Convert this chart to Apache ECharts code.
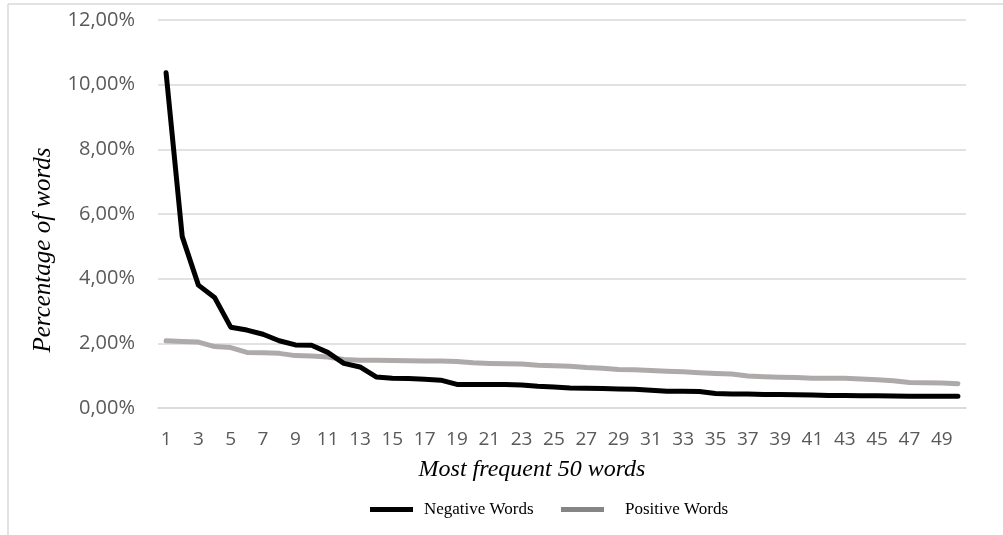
<!DOCTYPE html>
<html>
<head>
<meta charset="utf-8">
<script src="https://cdn.jsdelivr.net/npm/echarts@6/dist/echarts.min.js"></script>
<style>
html,body{margin:0;padding:0;background:#fff;}
#chart{width:1003px;height:535px;}
</style>
</head>
<body>
<div id="chart"></div>
<script>
const categories = Array.from({length: 50}, (_, i) => String(i + 1));
const negativeWords = [10.37, 5.30, 3.80, 3.42, 2.50, 2.41, 2.28, 2.08, 1.95, 1.94,
  1.72, 1.38, 1.27, 0.96, 0.92, 0.91, 0.89, 0.86, 0.73, 0.73,
  0.73, 0.73, 0.71, 0.67, 0.65, 0.62, 0.61, 0.60, 0.59, 0.58,
  0.55, 0.52, 0.52, 0.51, 0.45, 0.43, 0.43, 0.42, 0.42, 0.41,
  0.40, 0.39, 0.39, 0.38, 0.38, 0.37, 0.36, 0.36, 0.36, 0.36];
const positiveWords = [2.08, 2.06, 2.04, 1.90, 1.87, 1.72, 1.71, 1.69, 1.62, 1.61,
  1.58, 1.50, 1.48, 1.48, 1.47, 1.46, 1.45, 1.45, 1.44, 1.40,
  1.38, 1.37, 1.36, 1.32, 1.31, 1.29, 1.25, 1.23, 1.19, 1.18,
  1.16, 1.14, 1.12, 1.09, 1.07, 1.05, 0.99, 0.97, 0.95, 0.94,
  0.92, 0.92, 0.92, 0.90, 0.87, 0.84, 0.79, 0.78, 0.77, 0.75];
const yTicks = [0, 2, 4, 6, 8, 10, 12];
const xTitle = 'Most frequent 50 words';
const yTitle = 'Percentage of words';

const chart = echarts.init(document.getElementById('chart'), null, {renderer: 'canvas'});
const serif = '"Liberation Serif", "DejaVu Serif", serif';
const sans = '"Open Sans", "Noto Sans", sans-serif';
chart.setOption({
  animation: false,
  backgroundColor: '#fff',
  grid: {left: 158, right: 37, top: 20, bottom: 127, containLabel: false},
  graphic: [
    {type: 'line', shape: {x1: 8, y1: 4, x2: 1003, y2: 4}, style: {stroke: '#d9d9d9', lineWidth: 1.5}},
    {type: 'line', shape: {x1: 8, y1: 4, x2: 8, y2: 535}, style: {stroke: '#d9d9d9', lineWidth: 1.5}},
    {type: 'text', x: 532, y: 470, style: {text: xTitle, font: 'italic 24px "Liberation Serif", serif', fill: '#000', align: 'center', verticalAlign: 'middle'}},
    {type: 'text', x: 43, y: 250, rotation: Math.PI / 2, style: {text: yTitle, font: 'italic 25px "Liberation Serif", serif', fill: '#000', align: 'center', verticalAlign: 'middle'}}
  ],
  xAxis: {
    type: 'category',
    data: categories,
    boundaryGap: true,
    axisLine: {show: true, lineStyle: {color: '#d9d9d9', width: 1.5}},
    axisTick: {show: false},
    axisLabel: {interval: 1, color: '#595959', fontFamily: sans, fontSize: 19, margin: 22}
  },
  yAxis: {
    type: 'value',
    min: 0, max: 12, interval: 2,
    axisLine: {show: false},
    axisTick: {show: false},
    splitLine: {lineStyle: {color: '#d9d9d9', width: 1.5}},
    axisLabel: {
      color: '#595959', fontFamily: sans, fontSize: 20, margin: 23,
      formatter: v => yTicks.includes(v) ? v.toFixed(2).replace('.', ',') + '%' : ''
    }
  },
  legend: [
    {
      left: 365, top: 496,
      itemWidth: 43, itemHeight: 5, icon: 'rect',
      textStyle: {fontFamily: serif, fontSize: 17, color: '#000', padding: [0, 0, 0, 6]},
      data: [{name: 'Negative Words', itemStyle: {color: '#000'}}]
    },
    {
      left: 556, top: 496,
      itemWidth: 43, itemHeight: 5, icon: 'rect',
      textStyle: {fontFamily: serif, fontSize: 17, color: '#000', padding: [0, 0, 0, 16]},
      data: [{name: 'Positive Words', itemStyle: {color: '#858585'}}]
    }
  ],
  series: [
    {
      name: 'Negative Words', type: 'line', data: negativeWords,
      showSymbol: false, symbol: 'none', z: 3,
      lineStyle: {color: '#000', width: 5, cap: 'round', join: 'round'},
      itemStyle: {color: '#000'}
    },
    {
      name: 'Positive Words', type: 'line', data: positiveWords,
      showSymbol: false, symbol: 'none', z: 2,
      lineStyle: {color: '#aeaaaa', width: 5, cap: 'round', join: 'round'},
      itemStyle: {color: '#aeaaaa'}
    }
  ]
});
</script>
</body>
</html>
